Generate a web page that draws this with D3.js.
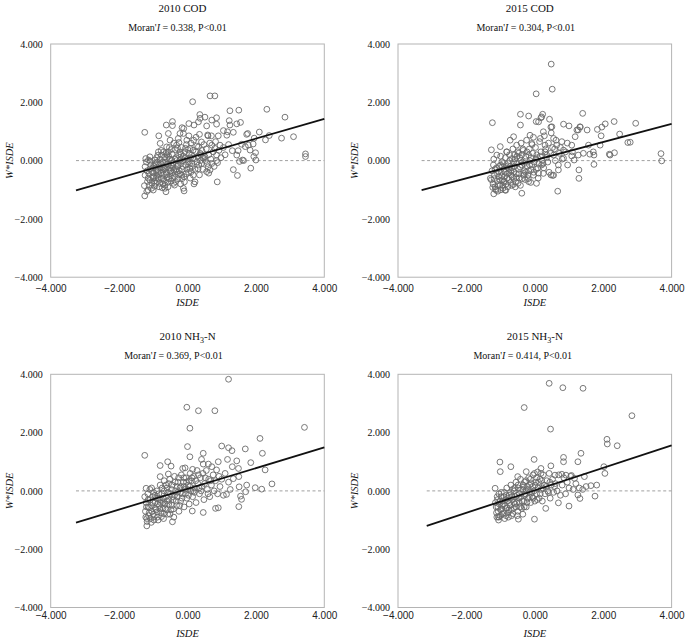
<!DOCTYPE html>
<html><head><meta charset="utf-8">
<script src="https://cdn.jsdelivr.net/npm/d3@7/dist/d3.min.js"></script>
<style>body{margin:0;background:#fff}svg{display:block}</style>
</head><body><svg id="c" width="685" height="640"></svg>
<script>
// ---------- data ----------
const titles = ["2010 COD", "2015 COD", "2010 NH3-N", "2015 NH3-N"];
const moranValues = ["0.338", "0.304", "0.369", "0.414"];
const pLabel = "P<0.01";
const slopes = [0.338, 0.311, 0.355, 0.385];
const intercepts = [0.078, 0.016, 0.07, 0.02];
const lineStart = [-3.26, -3.31, -3.26, -3.16];
const xTicks = [-4, -2, 0, 2, 4];
const yTicks = [-4, -2, 0, 2, 4];
const xTitle = "ISDE";
const yTitle = "W*ISDE";

const ptsCOD2010 = [
[-1.25,0.97],[0.15,2.02],[0.66,2.22],[0.80,2.22],[0.36,1.58],[0.37,1.45],[0.51,1.49],[-0.44,1.34],[-0.44,1.20],[-0.62,1.22],[-0.84,0.85],[1.24,1.71],[1.50,1.73],[2.32,1.76],[2.85,1.49],[1.22,1.37],[1.55,1.31],[1.24,1.22],[1.44,1.26],[0.85,1.47],[0.85,1.25],[0.71,1.39],[0.56,1.19],[0.04,1.27],[0.19,1.22],[-0.16,1.13],[-0.11,1.10],[-0.22,0.93],[0.60,0.85],[0.59,0.88],[0.90,0.85],[1.05,1.03],[1.17,0.99],[1.34,0.97],[1.73,0.90],[1.76,0.93],[2.10,0.98],[2.39,0.86],[2.28,0.71],[2.75,0.77],[3.10,0.82],[3.45,0.23],[3.45,0.14],[1.95,0.77],[1.92,0.57],[1.58,0.56],[1.31,0.34],[1.48,0.34],[1.69,0.48],[1.44,0.19],[1.52,-0.03],[1.61,0.02],[1.64,0.00],[1.94,0.14],[1.99,0.27],[2.00,0.02],[1.85,-0.26],[1.34,-0.31],[1.46,-0.51],[0.88,-0.07],[0.87,-0.73],[0.66,-0.32],[0.62,-0.43],[0.35,-0.49],[0.19,-0.80],[-0.10,-1.04],[-0.63,-1.07],[-0.74,-0.93],[-1.25,-1.21],[-1.26,-0.86],[-1.19,-1.06],
[-1.22,0.07],[-1.24,-0.21],[-1.24,-0.50],[-1.10,0.13],[-1.07,-0.15],[-1.05,-0.38],[-1.10,-0.67],[-1.15,-1.01],[-0.95,0.02],[-0.93,-0.27],[-0.90,-0.50],[-0.93,-0.78],[-1.00,-1.01],[-0.80,0.59],[-0.85,0.30],[-0.76,0.19],[-0.78,-0.10],[-0.71,-0.33],[-0.76,-0.61],[-0.66,-0.84],[-0.56,0.93],[-0.51,0.70],[-0.61,0.47],[-0.56,0.30],[-0.61,0.07],[-0.56,-0.15],[-0.46,0.02],[-0.51,-0.38],[-0.44,-0.61],[-0.38,-0.84],[-0.32,0.53],[-0.27,0.76],[-0.12,0.93],[-0.02,0.70],[-0.22,0.30],[-0.17,0.07],[-0.27,-0.15],[-0.32,-0.38],[-0.17,-0.50],[-0.09,-0.73],[0.07,0.42],[0.12,0.19],[0.02,-0.04],[0.07,-0.27],[0.17,-0.50],[0.22,-0.73],[0.32,1.33],[0.41,0.64],[0.32,0.47],[0.37,0.25],[0.51,0.13],[0.41,-0.10],[0.61,-0.21],[0.56,-0.38],[0.71,0.53],[0.80,0.42],[0.85,0.19],[0.71,-0.10],[0.95,0.53],[1.15,0.87],[1.83,0.36],[1.78,0.53],
[-1.18,-0.35],[-1.15,-0.60],[-1.12,-0.85],[-1.05,-0.95],[-1.02,-0.55],[-0.98,-0.20],[-0.97,-0.70],[-0.88,-0.05],[-0.86,-0.38],[-0.85,-0.62],[-0.83,-0.90],[-0.80,0.05],[-0.74,-0.22],[-0.70,-0.48],[-0.68,-0.70],[-0.67,0.12],[-0.64,-0.05],[-0.62,-0.40],[-0.60,-0.58],[-0.58,-0.75],[-0.55,0.15],[-0.52,-0.25],[-0.50,-0.52],[-0.48,-0.70],[-0.45,0.22],[-0.42,-0.08],[-0.40,-0.32],[-0.38,-0.55],[-0.36,0.38],[-0.34,0.10],[-0.30,-0.20],[-0.28,-0.62],[-0.26,0.20],[-0.24,-0.35],[-0.20,-0.10],[-0.18,0.45],[-0.15,-0.30],[-0.12,0.15],[-0.10,-0.55],[-0.08,0.30],[-0.05,-0.15],[-0.03,0.55],[0.00,0.05],[0.03,-0.40],[0.05,0.25],[0.08,-0.60],[0.10,0.60],[0.13,-0.10],[0.16,0.35],[0.20,0.05],[0.22,-0.30],[0.25,0.80],[0.27,0.50],[0.30,0.15],[0.33,-0.15],[0.38,0.00],[0.42,0.35],[0.45,-0.30],[0.48,0.55],[0.52,0.00],[0.55,0.40],[0.62,0.20],[0.65,0.60],[0.68,0.05],[0.75,0.30],[0.78,-0.20],[0.82,0.65],[0.92,0.35],[0.98,0.10],[1.05,0.45],[1.10,0.20],[1.20,0.55],[-1.20,-0.05],[-1.14,0.02],[-1.08,-0.28],[-1.00,-0.42],[-0.92,-0.60],[-0.90,0.10],[-0.82,-0.15],[-0.78,-0.42],[-0.72,-0.80],[-0.70,0.30],[-0.65,-0.25],[-0.60,0.20],[-0.57,-0.90],[-0.53,0.45],[-0.48,-0.15],[-0.44,-0.42],[-0.40,0.60],[-0.35,-0.72],[-0.32,0.00],[-0.25,0.62],[-0.22,-0.45],[-0.20,-0.80],[-0.14,0.00],[-0.12,-0.95],[-0.06,0.42],[-0.02,-0.30],[0.04,0.85],[0.09,0.10],[0.14,-0.20],[0.18,0.70],[0.28,-0.05],[0.35,0.90],[0.44,0.10],[0.58,-0.10],[0.70,0.85],[0.85,0.00],
[-1.17,-0.72],[-1.13,-0.45],[-1.09,-0.02],[-1.04,-0.78],[-1.01,-0.25],[-0.99,-0.58],[-0.96,-0.88],[-0.94,-0.12],[-0.91,-0.36],[-0.89,-0.72],[-0.87,0.18],[-0.84,-0.48],[-0.81,-0.78],[-0.79,-0.25],[-0.77,0.35],[-0.73,-0.05],[-0.71,-0.62],[-0.69,-0.28],[-0.66,-0.95],[-0.63,0.25],[-0.61,-0.48],[-0.59,-0.12],[-0.54,-0.62],[-0.52,0.05],[-0.49,-0.35],[-0.47,0.38],[-0.43,-0.20],[-0.41,-0.78],[-0.37,0.05],[-0.33,-0.28],[-0.29,0.42],[-0.27,-0.48],[-0.23,0.00],[-0.19,0.22],[-0.16,-0.62],[-0.13,-0.20],[-0.07,0.08],[-0.04,-0.45],[0.01,0.38],[0.06,-0.12],[0.11,-0.38],[0.15,0.08],[0.24,0.30],[0.31,-0.28],[0.39,0.20],[0.47,0.08]
];

const ptsCOD2015 = [
[0.48,3.31],[0.51,2.45],[0.04,2.29],[-1.24,1.30],[-0.42,1.59],[-0.18,1.53],[0.23,1.59],[0.18,1.47],[0.43,1.42],[0.47,1.15],[0.04,1.34],[-0.42,1.22],[1.40,1.62],[0.84,1.25],[1.00,1.19],[1.33,1.15],[1.27,1.05],[1.53,1.05],[1.83,1.07],[1.96,1.15],[2.06,1.26],[2.32,1.34],[2.95,1.28],[2.48,0.91],[2.79,0.63],[2.18,0.22],[2.33,0.27],[3.69,0.24],[3.71,-0.01],[1.94,0.85],[1.73,0.19],[1.61,0.22],[1.42,0.25],[1.73,-0.13],[1.29,-0.32],[1.29,-0.61],[1.15,0.02],[1.08,0.16],[0.96,-0.15],[0.84,0.08],[0.69,-0.32],[0.67,-1.05],[0.47,-0.49],[0.52,-0.51],[-0.38,-1.12],[-1.20,-1.14],[-1.27,-0.66],[-1.27,0.37],[-1.01,0.48],[0.05,-0.78],[-0.18,-0.72],[0.11,-0.43],
[-1.11,0.19],[-1.21,-0.15],[-1.30,-0.61],[-1.16,-0.90],[-1.06,-0.38],[-0.96,-0.04],[-0.91,-0.73],[-0.87,-1.01],[-0.82,0.30],[-0.77,-0.27],[-0.72,0.70],[-0.62,0.82],[-0.67,0.07],[-0.62,-0.61],[-0.57,-0.90],[-0.53,0.53],[-0.48,0.25],[-0.38,-0.15],[-0.33,-0.44],[-0.14,0.87],[-0.09,0.59],[-0.18,0.19],[-0.09,-0.15],[-0.04,-0.50],[0.11,1.33],[0.20,1.50],[0.25,0.99],[0.16,0.76],[0.30,0.53],[0.35,0.19],[0.20,-0.15],[0.25,-0.44],[0.50,1.16],[0.55,0.76],[0.64,0.53],[0.55,0.19],[0.69,-0.15],[0.55,-0.50],[0.79,0.65],[0.84,0.36],[1.08,0.53],[1.18,0.82],[1.23,1.05],[1.32,1.16],[1.27,0.19],[1.57,0.53],[1.71,0.30],[1.91,0.53],[2.20,0.19],[2.72,0.62],
[-1.25,-0.35],[-1.22,-0.80],[-1.18,-0.50],[-1.15,-0.98],[-1.12,-0.25],[-1.10,-0.70],[-1.08,-1.05],[-1.05,-0.55],[-1.02,-0.85],[-1.00,-0.15],[-0.98,-0.40],[-0.95,-0.65],[-0.93,-0.95],[-0.90,-0.30],[-0.88,-0.55],[-0.86,0.10],[-0.84,-0.80],[-0.80,-0.45],[-0.78,-0.10],[-0.76,-0.65],[-0.74,0.20],[-0.70,-0.35],[-0.68,-0.85],[-0.66,-0.55],[-0.64,0.40],[-0.60,-0.20],[-0.58,0.05],[-0.56,-0.72],[-0.54,-0.45],[-0.50,0.30],[-0.48,-0.30],[-0.46,-0.60],[-0.44,0.10],[-0.42,-0.85],[-0.40,0.60],[-0.36,-0.05],[-0.34,0.35],[-0.30,-0.35],[-0.28,-0.65],[-0.26,0.15],[-0.24,0.70],[-0.22,-0.20],[-0.20,-0.50],[-0.16,0.40],[-0.14,0.00],[-0.12,-0.75],[-0.10,-0.30],[-0.06,0.25],[-0.04,0.80],[-0.02,-0.05],[0.02,0.45],[0.04,-0.30],[0.08,0.10],[0.10,-0.60],[0.14,0.65],[0.18,0.30],[0.22,0.00],[0.26,-0.25],[0.28,0.85],[0.32,0.40],[0.38,-0.05],[0.40,0.60],[0.42,-0.40],[0.46,0.25],[0.48,0.95],[0.58,0.40],[0.60,0.00],[0.62,0.70],[0.72,0.25],[0.75,0.45],[0.80,0.05],[0.90,0.30],[0.95,0.60],[1.10,0.30],[-1.20,0.05],[-1.00,0.15],[-0.95,-0.20],[-0.82,0.30],[-0.72,-0.20],[-0.62,-0.05],[-0.52,0.15],[-0.38,0.20],[-0.32,-0.50],[-0.18,-0.35],[-0.08,0.55],[0.06,0.20],[0.12,-0.10],[0.34,0.10],[0.52,0.45],
[-1.23,-0.92],[-1.19,-0.62],[-1.16,-0.30],[-1.13,-1.02],[-1.09,-0.45],[-1.07,-0.82],[-1.04,-0.20],[-1.01,-0.68],[-0.99,-1.00],[-0.97,-0.52],[-0.94,-0.85],[-0.92,-0.10],[-0.89,-0.70],[-0.87,-0.40],[-0.85,-1.02],[-0.83,-0.20],[-0.81,-0.60],[-0.79,-0.90],[-0.75,-0.42],[-0.73,0.00],[-0.71,-0.75],[-0.69,-0.50],[-0.67,-0.25],[-0.63,-0.82],[-0.61,-0.38],[-0.59,0.20],[-0.55,-0.58],[-0.53,-0.10],[-0.49,-0.78],[-0.47,-0.45],[-0.43,-0.22],[-0.41,0.00],[-0.37,-0.62],[-0.35,0.40],[-0.31,-0.10],[-0.27,-0.40],[-0.23,0.30],[-0.19,-0.62],[-0.15,-0.15],[-0.11,0.10],[-0.03,-0.40],[0.03,0.05],[0.09,-0.25],[0.16,0.15],[0.24,-0.10],[0.30,0.30]
];

const ptsNH2010 = [
[1.20,3.83],[-0.02,2.87],[0.32,2.75],[0.80,2.75],[0.07,2.15],[3.42,2.18],[2.12,1.80],[-1.25,1.22],[0.00,1.52],[0.07,1.17],[1.00,1.54],[1.20,1.48],[1.30,1.38],[1.69,1.44],[0.46,1.29],[0.41,1.08],[0.46,0.92],[1.17,1.08],[1.44,1.03],[1.85,0.97],[2.19,1.29],[2.27,0.72],[2.47,0.24],[1.98,0.11],[2.17,0.06],[1.73,0.20],[1.70,-0.03],[1.51,0.14],[1.55,-0.18],[1.58,-0.29],[1.50,-0.54],[1.14,-0.12],[0.90,-0.58],[0.82,-0.60],[0.46,-0.74],[0.14,-0.69],[-0.44,-1.06],[-1.19,-1.20],[-1.21,0.09],[-0.80,0.87],[-0.48,0.85],[-0.58,1.00],[-0.80,0.49],[-0.56,0.58],[-0.14,0.77],[-0.07,0.79],[0.15,0.74],[0.61,0.92],[0.71,0.83],[0.85,0.72],[0.90,1.00],[1.31,0.83],[1.34,0.42],[1.50,0.49],[1.49,0.77],
[-1.22,-0.90],[-1.20,-0.55],[-1.18,-1.05],[-1.15,-0.30],[-1.12,-0.75],[-1.10,0.05],[-1.08,-0.95],[-1.05,-0.50],[-1.02,-0.20],[-1.00,-0.80],[-0.98,-1.00],[-0.95,-0.40],[-0.92,-0.65],[-0.90,0.00],[-0.88,-0.90],[-0.85,-0.25],[-0.82,-0.50],[-0.80,0.20],[-0.78,-0.75],[-0.75,-0.10],[-0.72,-0.40],[-0.70,-0.95],[-0.68,0.35],[-0.65,-0.60],[-0.62,-0.20],[-0.60,0.10],[-0.58,-0.80],[-0.55,-0.45],[-0.52,0.40],[-0.50,-0.10],[-0.48,-0.65],[-0.45,0.20],[-0.42,-0.30],[-0.40,-0.90],[-0.38,0.50],[-0.35,0.00],[-0.32,-0.50],[-0.30,-0.20],[-0.28,0.30],[-0.25,-0.70],[-0.22,0.10],[-0.20,-0.35],[-0.18,0.55],[-0.15,-0.10],[-0.12,0.30],[-0.10,-0.55],[-0.08,0.05],[-0.05,0.45],[-0.02,-0.25],[0.02,0.20],[0.05,-0.45],[0.08,0.60],[0.10,0.00],[0.12,0.35],[0.15,-0.20],[0.18,0.50],[0.22,0.10],[0.25,-0.40],[0.28,0.70],[0.30,0.25],[0.35,-0.10],[0.38,0.45],[0.40,0.00],[0.45,0.60],[0.48,-0.30],[0.50,0.25],[0.55,0.70],[0.58,0.05],[0.62,0.40],[0.65,-0.20],[0.70,0.20],[0.75,0.55],[0.78,0.00],[0.82,0.35],[0.88,-0.10],[0.92,0.50],[0.95,0.15],[1.00,0.40],[1.05,-0.15],[1.10,0.60],[1.20,0.30],[1.25,0.05],[-1.25,-0.20],[-1.15,-0.55],[-1.05,0.10],[-0.95,-0.15],[-0.88,-0.45],[-0.80,-0.30],[-0.72,-0.60],[-0.68,0.00],[-0.60,-0.35],[-0.55,0.25],[-0.45,-0.50],[-0.38,-0.15],[-0.30,0.15],[-0.20,-0.05],[-0.10,0.15],[0.00,0.05],[0.05,0.35],[0.20,-0.05],[0.32,0.55],[0.42,0.15],[0.52,0.45],[0.60,-0.10],[0.68,0.35],
[-1.23,-0.70],[-1.21,-0.40],[-1.19,-0.95],[-1.16,-0.10],[-1.14,-0.85],[-1.11,-0.58],[-1.09,-0.30],[-1.06,-1.08],[-1.04,-0.70],[-1.01,-0.40],[-0.99,-0.05],[-0.97,-0.88],[-0.94,-0.60],[-0.91,-0.25],[-0.89,-0.72],[-0.86,-1.00],[-0.84,-0.10],[-0.81,-0.62],[-0.79,-0.40],[-0.76,-0.88],[-0.74,0.10],[-0.71,-0.25],[-0.69,-0.78],[-0.66,-0.45],[-0.63,0.20],[-0.61,-0.65],[-0.57,-0.05],[-0.54,-0.30],[-0.51,-0.80],[-0.47,0.05],[-0.44,-0.20],[-0.41,-0.62],[-0.36,0.30],[-0.33,-0.35],[-0.29,-0.05],[-0.26,0.45],[-0.23,-0.50],[-0.19,0.15],[-0.16,-0.25],[-0.11,0.45],[-0.06,-0.10],[-0.03,0.30],[0.03,-0.15],[0.07,0.15],[0.13,0.45],[0.17,0.00],[0.24,0.35],[0.34,0.10]
];

const ptsNH2015 = [
[0.42,3.69],[0.82,3.54],[1.41,3.52],[-0.31,2.86],[2.84,2.58],[0.46,2.12],[2.11,1.77],[2.12,1.61],[2.41,1.55],[1.35,1.29],[0.84,1.15],[0.84,1.00],[-0.02,1.08],[-1.02,0.99],[-1.01,0.66],[-0.70,0.83],[-1.16,0.09],[1.26,1.00],[2.02,0.83],[2.05,0.60],[1.45,0.49],[1.16,0.43],[1.81,0.20],[1.64,0.18],[1.76,-0.18],[1.32,-0.26],[1.26,-0.14],[1.00,-0.52],[0.69,-0.41],[0.32,-0.60],[-0.01,-0.97],[-0.48,-0.97],[-1.06,-1.00],[-1.06,-0.89],[0.47,0.86],[0.18,0.60],[0.18,0.77],[0.59,0.54],[0.79,0.57],[0.91,0.54],[1.07,0.53],[-0.25,0.66],[-0.33,0.14],[-0.50,0.49],[-0.01,0.60],
[-1.15,-0.40],[-1.12,-0.75],[-1.10,-0.20],[-1.08,-0.55],[-1.05,-0.90],[-1.02,-0.35],[-1.00,-0.65],[-0.98,-0.05],[-0.95,-0.80],[-0.92,-0.45],[-0.90,-0.20],[-0.88,-0.95],[-0.85,-0.60],[-0.82,0.10],[-0.80,-0.35],[-0.78,-0.75],[-0.75,-0.15],[-0.72,-0.50],[-0.70,0.20],[-0.68,-0.85],[-0.65,-0.30],[-0.62,-0.60],[-0.60,0.00],[-0.58,-0.45],[-0.55,0.30],[-0.52,-0.15],[-0.50,-0.70],[-0.48,0.10],[-0.45,-0.40],[-0.42,0.40],[-0.40,-0.20],[-0.38,-0.60],[-0.35,0.05],[-0.32,-0.35],[-0.30,0.30],[-0.28,-0.10],[-0.25,-0.55],[-0.22,0.15],[-0.20,-0.25],[-0.18,0.45],[-0.15,-0.05],[-0.12,-0.40],[-0.10,0.25],[-0.08,-0.20],[-0.05,0.55],[-0.02,0.00],[0.00,-0.35],[0.03,0.30],[0.05,-0.10],[0.08,0.65],[0.10,0.10],[0.13,-0.25],[0.15,0.40],[0.18,0.05],[0.22,-0.35],[0.25,0.55],[0.28,0.20],[0.30,-0.10],[0.35,0.35],[0.38,0.00],[0.42,0.60],[0.45,-0.25],[0.48,0.20],[0.52,0.40],[0.55,-0.05],[0.60,0.25],[0.65,0.00],[0.70,0.55],[0.75,-0.15],[0.80,0.20],[0.85,0.45],[0.90,-0.10],[0.95,0.30],[1.00,0.10],[1.05,0.50],[1.12,0.05],[1.20,0.25],[1.30,0.10],[1.40,0.05],[1.50,0.15],[-1.05,-0.10],[-0.95,-0.50],[-0.85,-0.30],[-0.75,-0.65],[-0.65,0.05],[-0.55,-0.55],[-0.45,-0.10],[-0.35,-0.80],[-0.25,0.00],[-0.15,0.20],[-0.05,-0.25],[0.05,0.45],[0.20,0.35],[0.40,-0.05],[0.58,0.15],
[-1.13,-0.55],[-1.11,-0.90],[-1.09,-0.30],[-1.07,-0.70],[-1.04,-0.45],[-1.01,-0.85],[-0.99,-0.20],[-0.97,-0.62],[-0.94,-0.35],[-0.91,-0.75],[-0.89,-0.05],[-0.87,-0.50],[-0.84,-0.85],[-0.83,-0.15],[-0.81,-0.58],[-0.79,-0.25],[-0.77,-0.90],[-0.74,-0.40],[-0.71,-0.05],[-0.69,-0.65],[-0.67,-0.20],[-0.64,-0.78],[-0.61,-0.40],[-0.59,0.10],[-0.57,-0.20],[-0.53,-0.40],[-0.51,-0.85],[-0.49,0.20],[-0.46,-0.25],[-0.43,-0.55],[-0.41,0.05],[-0.37,-0.35],[-0.34,0.20],[-0.31,-0.55],[-0.29,-0.15],[-0.26,0.35],[-0.23,-0.40],[-0.19,0.05],[-0.16,-0.20],[-0.13,0.40],[-0.09,-0.05],[-0.06,0.15],[0.01,0.20],[0.07,-0.30],[0.11,0.30],[0.16,-0.10],[0.23,0.10],[0.33,0.15],[0.44,0.30]
];

const allPoints = [ptsCOD2010, ptsCOD2015, ptsNH2010, ptsNH2015];

// ---------- layout ----------
const panels = [
  {x: 50.7, y: 44.0, titleY: 12, moranY: 31, xLabY: 292, xTitY: 306, yTitX: 13, tdx: -5, mdx: -10},
  {x: 398.0, y: 44.0, titleY: 12, moranY: 31, xLabY: 292, xTitY: 306, yTitX: 358, tdx: -5, mdx: -9},
  {x: 50.7, y: 374.3, titleY: 340, moranY: 359, xLabY: 619, xTitY: 637, yTitX: 13, tdx: 0, mdx: -14},
  {x: 398.0, y: 374.3, titleY: 340, moranY: 359, xLabY: 619, xTitY: 637, yTitX: 358, tdx: 0, mdx: -12}
];
const PW = 273.6, PH = 233.2;
const serif = "'Liberation Serif','Times New Roman',serif";
const sans = "'Liberation Sans',Arial,sans-serif";

const svg = d3.select("#c");

panels.forEach((p, i) => {
  const x = d3.scaleLinear().domain([-4, 4]).range([p.x, p.x + PW]);
  const y = d3.scaleLinear().domain([-4, 4]).range([p.y + PH, p.y]);
  const g = svg.append("g");
  const cx = p.x + PW / 2;

  const t = g.append("text").attr("x", cx + p.tdx).attr("y", p.titleY)
    .attr("text-anchor", "middle").attr("font-family", serif).attr("font-size", 11).attr("fill", "#111");
  const m = titles[i].match(/^(.*NH)3(.*)$/);
  if (m) {
    t.append("tspan").text(m[1]);
    t.append("tspan").text("3").attr("font-size", 8).attr("dy", 3);
    t.append("tspan").text(m[2]).attr("dy", -3);
  } else t.text(titles[i]);

  const mt = g.append("text").attr("x", cx + p.mdx).attr("y", p.moranY)
    .attr("text-anchor", "middle").attr("font-family", serif).attr("font-size", 10).attr("fill", "#111");
  mt.append("tspan").text("Moran'");
  mt.append("tspan").text("I").attr("font-style", "italic");
  mt.append("tspan").text(" = " + moranValues[i] + ", " + pLabel);

  g.append("rect").attr("x", p.x).attr("y", p.y).attr("width", PW).attr("height", PH)
    .attr("fill", "none").attr("stroke", "#b4b4b4").attr("stroke-width", 1);

  const yAxis = d3.axisLeft(y).tickValues(yTicks).tickFormat(d3.format(".3f")).tickSize(0).tickPadding(8);
  const ya = g.append("g").attr("transform", `translate(${p.x},0)`).call(yAxis);
  ya.select(".domain").remove();
  ya.selectAll("text").attr("font-family", serif).attr("font-size", 10).attr("fill", "#111");

  const xAxis = d3.axisBottom(x).tickValues(xTicks).tickFormat(d3.format(".3f")).tickSize(0).tickPadding(0);
  const xa = g.append("g").attr("transform", `translate(0,${p.xLabY - 7})`).call(xAxis);
  xa.select(".domain").remove();
  xa.selectAll("text").attr("font-family", sans).attr("font-size", 10).attr("fill", "#222").attr("dy", "0.71em");

  g.append("text").attr("x", cx).attr("y", p.xTitY).attr("text-anchor", "middle")
    .attr("font-family", serif).attr("font-style", "italic").attr("font-size", 10.5).attr("fill", "#111").text(xTitle);
  g.append("text").attr("transform", `translate(${p.yTitX},${y(0)}) rotate(-90)`).attr("text-anchor", "middle")
    .attr("font-family", serif).attr("font-style", "italic").attr("font-size", 10.5).attr("fill", "#111").text(yTitle);

  g.append("line").attr("x1", x(lineStart[i])).attr("x2", x(4)).attr("y1", y(0)).attr("y2", y(0))
    .attr("stroke", "#a0a0a0").attr("stroke-width", 1).attr("stroke-dasharray", "3,2.5");

  g.append("g").selectAll("circle").data(allPoints[i]).join("circle")
    .attr("cx", d => x(d[0])).attr("cy", d => y(d[1])).attr("r", 2.9)
    .attr("fill", "none").attr("stroke", "#6a6a6a").attr("stroke-width", 0.9);

  const f = v => intercepts[i] + slopes[i] * v;
  g.append("line").attr("x1", x(lineStart[i])).attr("x2", x(4))
    .attr("y1", y(f(lineStart[i]))).attr("y2", y(f(4)))
    .attr("stroke", "#111").attr("stroke-width", 1.8);
});
</script></body></html>
